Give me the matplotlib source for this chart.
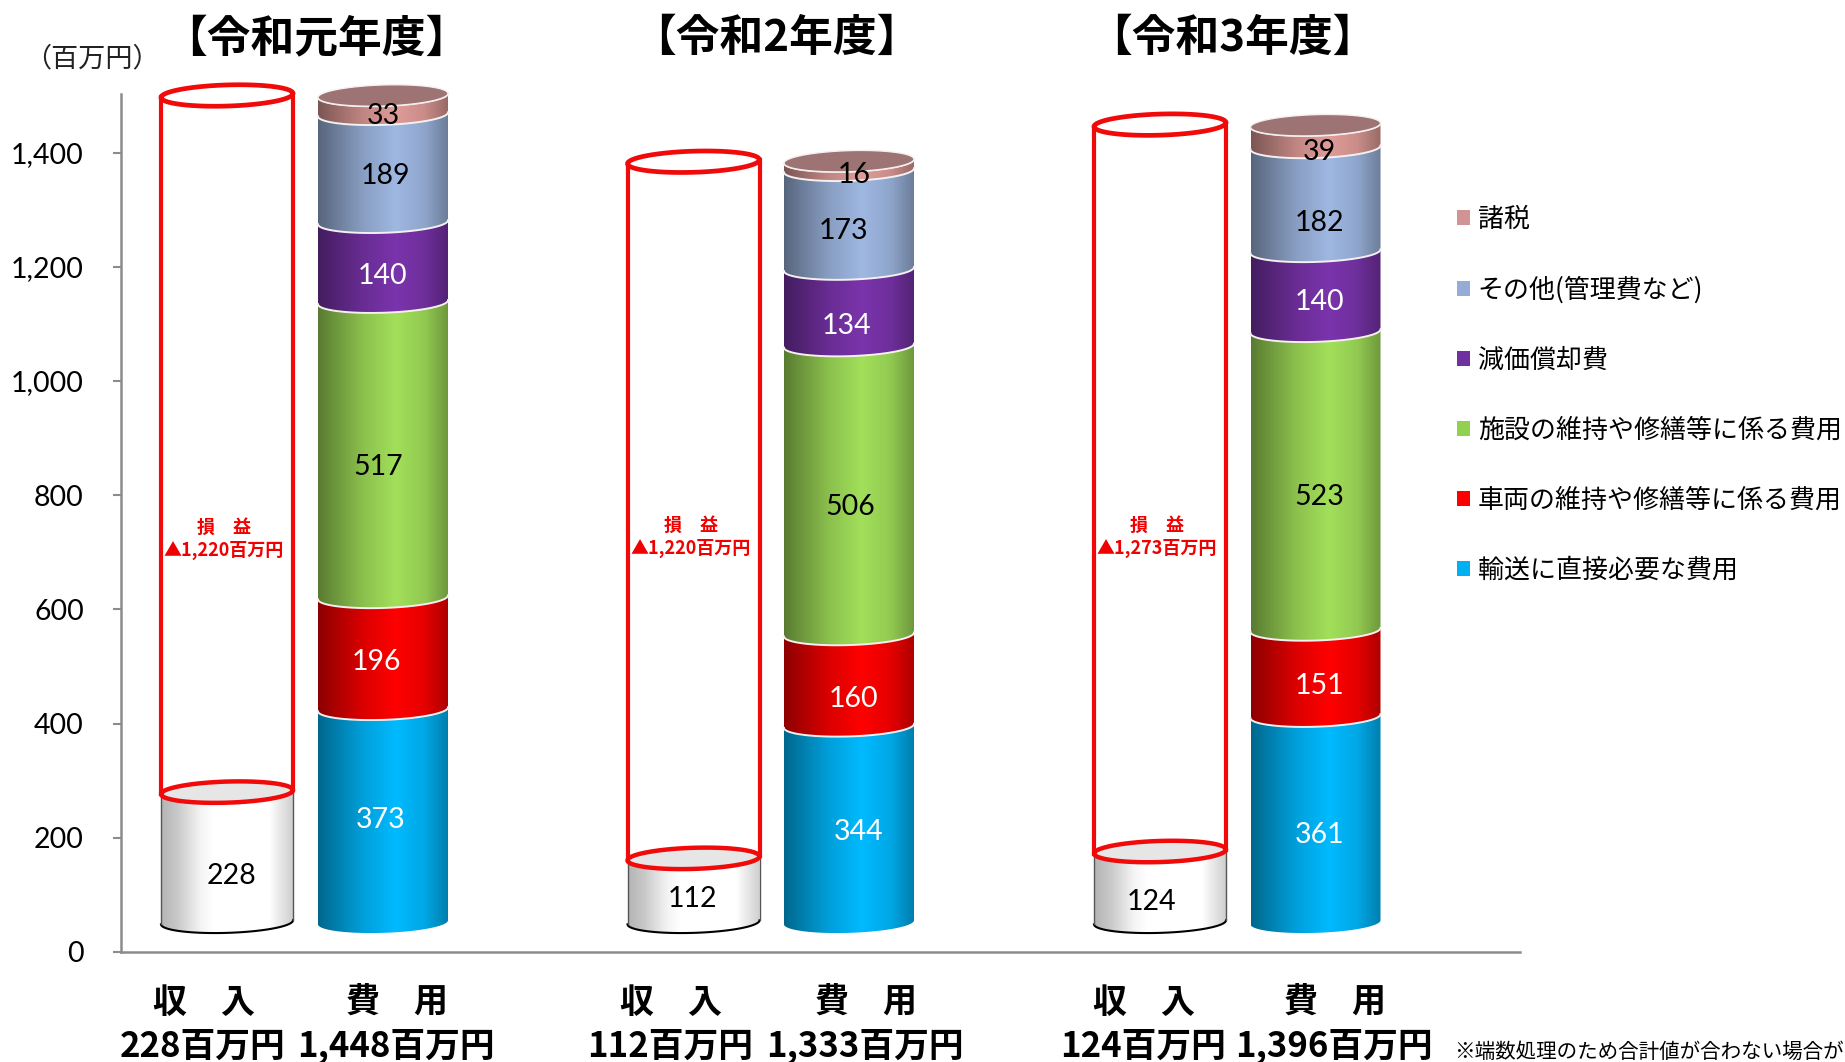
"""Income and cost cylinders for three fiscal years."""

import matplotlib
matplotlib.use("Agg")
import matplotlib.pyplot as plt
import numpy as np
from matplotlib.colors import LinearSegmentedColormap, to_rgb
from matplotlib.patches import Patch, PathPatch
from matplotlib.path import Path

plt.rcParams["font.family"] = ["Noto Sans CJK JP", "DejaVu Sans"]

W, H = 1845, 1062
Y_PX = 0.571  # pixels per million yen

YEARS = ["【令和元年度】", "【令和2年度】", "【令和3年度】"]
REVENUE = [228, 112, 124]
LOSS = [1220, 1220, 1273]
REVENUE_LABELS = ["228百万円", "112百万円", "124百万円"]
COST_LABELS = ["1,448百万円", "1,333百万円", "1,396百万円"]
LOSS_LABELS = ["▲1,220百万円", "▲1,220百万円", "▲1,273百万円"]

TRANSPORT = [373, 344, 361]
VEHICLE = [196, 160, 151]
FACILITY = [517, 506, 523]
DEPRECIATION = [140, 134, 140]
OTHER = [189, 173, 182]
TAX = [33, 16, 39]

CATEGORIES = [
    "輸送に直接必要な費用",
    "車両の維持や修繕等に係る費用",
    "施設の維持や修繕等に係る費用",
    "減価償却費",
    "その他(管理費など)",
    "諸税",
]
TICKS = [0, 200, 400, 600, 800, 1000, 1200, 1400]

SERIES = [TRANSPORT, VEHICLE, FACILITY, DEPRECIATION, OTHER, TAX]
BODY_COLORS = ["#00BAFF", "#FF0000", "#A2E05A", "#7A34AC", "#9FB8E2", "#E09C98"]
LEGEND_COLORS = ["#00B0F0", "#FF0000", "#92D050", "#7030A0", "#95ADD6", "#D09494"]
LABEL_COLORS = ["white", "white", "black", "white", "black", "black"]
CAP_COLOR = "#9D7373"

# layout, in reference pixels
REV_X = [227, 693.5, 1160]
COST_X = [383, 849, 1315.5]
REV_HALF = 66
COST_HALF = 65
BASE = 52  # the 3-D chart floats its cylinders above the axis
ARC_H = 18.5
TILT = 3.5
REV_TEXT_X = [204, 671, 1144]
COST_TEXT_X = [397, 866, 1335]
LOSS_TEXT_Y = [(527, 550), (525, 548), (525, 548)]
TITLE_X = [316, 776, 1232]
# label nudges per year, bottom segment first
LABEL_DX = [[-2, -7, -5, 0, 2, 0], [10, 5, 1, -2, -5, 5], [4, 4, 4, 4, 4, 4]]
LABEL_DY = [[4, 9, 17, 14, 8, 11], [8, 19, 17, 19, 11, 9], [16, 13, 16, 11, 24, 16]]
REV_LABEL_DX = [5, -1, -8]
REV_LABEL_DY = [19, 9, 15]


def fig_xy(x, y):
    return x / W, 1 - y / H


def arc(xc, half, y, start=np.pi, stop=2 * np.pi):
    t = np.linspace(start, stop, 60)
    return xc + half * np.cos(t), y + ARC_H * np.sin(t) + TILT * np.cos(t)


def shaded_cmap(color):
    rgb = np.array(to_rgb(color))
    stops = [(0.0, 0.55), (0.12, 0.66), (0.35, 0.86), (0.6, 1.0), (0.82, 0.9), (1.0, 0.68)]
    return LinearSegmentedColormap.from_list(
        "shade", [(pos, tuple(rgb * k)) for pos, k in stops]
    )


def band(ax, xc, half, lo, hi, cmap):
    x1, y1 = arc(xc, half, lo)
    x2, y2 = arc(xc, half, hi)
    path = Path(np.column_stack([np.r_[x1, x2[::-1]], np.r_[y1, y2[::-1]]]))
    img = ax.imshow(
        np.linspace(0, 1, 256).reshape(1, -1),
        extent=[xc - half, xc + half, lo - 40, hi + 40],
        aspect="auto",
        cmap=cmap,
        interpolation="bilinear",
        zorder=2,
    )
    img.set_clip_path(PathPatch(path, transform=ax.transData))
    img.set_clip_box(None)


def ellipse(ax, xc, half, y, face, edge, lw, zorder):
    x, ye = arc(xc, half, y, 0, 2 * np.pi)
    ax.fill(x, ye, facecolor=face, edgecolor=edge, linewidth=lw, zorder=zorder, clip_on=False)


def draw_cost(ax, idx):
    xc = COST_X[idx]
    lo = BASE
    for s, values in enumerate(SERIES):
        hi = lo + values[idx]
        band(ax, xc, COST_HALF, lo, hi, shaded_cmap(BODY_COLORS[s]))
        ax.plot(*arc(xc, COST_HALF, hi), color="#F4F0F0", lw=1.4, zorder=3, clip_on=False)
        ax.annotate(
            str(values[idx]),
            (xc, (lo + hi) / 2),
            xytext=(LABEL_DX[idx][s], -LABEL_DY[idx][s]),
            textcoords="offset pixels",
            ha="center",
            va="center",
            color=LABEL_COLORS[s],
            fontsize=20.5,
            family="Lato",
            zorder=6,
        )
        lo = hi
    ellipse(ax, xc, COST_HALF, lo, CAP_COLOR, "#F4F0F0", 1.0, 4)


def draw_revenue(ax, idx):
    xc = REV_X[idx]
    lo, hi = BASE, BASE + REVENUE[idx]
    top = hi + LOSS[idx]
    left, right = xc - REV_HALF, xc + REV_HALF
    white = LinearSegmentedColormap.from_list(
        "white",
        [(0.0, "#B4B4B4"), (0.12, "#C8C8C8"), (0.3, "#F4F4F4"), (0.4, "white"),
         (0.82, "white"), (1.0, "#CFCFCF")],
    )
    band(ax, xc, REV_HALF, lo, hi, white)
    ax.plot(*arc(xc, REV_HALF, lo), color="black", lw=1.5, zorder=3)
    ax.plot([left, left], [lo - TILT, hi - TILT], color="#555555", lw=1.0, zorder=3)
    ax.plot([right, right], [lo + TILT, hi + TILT], color="#555555", lw=1.0, zorder=3)
    ax.plot([left, left], [hi - TILT, top - TILT], color="#F00A0A", lw=3.0, zorder=4, clip_on=False)
    ax.plot([right, right], [hi + TILT, top + TILT], color="#F00A0A", lw=3.0, zorder=4, clip_on=False)
    ellipse(ax, xc, REV_HALF, hi, "#E6E6E6", "#F00A0A", 3.2, 5)
    ellipse(ax, xc, REV_HALF, top, "white", "#F00A0A", 3.4, 5)
    ax.annotate(
        str(REVENUE[idx]),
        (xc, (lo + hi) / 2),
        xytext=(REV_LABEL_DX[idx], -REV_LABEL_DY[idx]),
        textcoords="offset pixels",
        ha="center",
        va="center",
        fontsize=20.5,
        family="Lato",
        zorder=6,
    )


def main():
    fig = plt.figure(figsize=(W / 100, H / 100), dpi=100)
    ax = fig.add_axes([121 / W, (H - 952) / H, (1520 - 121) / W, 858 / H])

    for idx in range(3):
        draw_revenue(ax, idx)
        draw_cost(ax, idx)

    ax.set_xlim(121, 1520)
    ax.set_ylim(0, 858 / Y_PX)
    ax.set_xticks([])
    ax.set_yticks(TICKS)
    ax.set_yticklabels([f"{t:,}" for t in TICKS], family="Lato", fontsize=20.5)
    ax.tick_params(axis="y", length=5.8, width=1.5, color="#8C8C8C", pad=21)
    ax.spines[["top", "right"]].set_visible(False)
    ax.spines[["left", "bottom"]].set_color("#8C8C8C")
    ax.spines[["left", "bottom"]].set_linewidth(1.8)

    fig.text(*fig_xy(92, 59), "（百万円）", fontsize=19.5, ha="center", va="center", color="#222222")

    for idx in range(3):
        fig.text(*fig_xy(TITLE_X[idx], 38), YEARS[idx], fontsize=31.5, fontweight="bold",
                 ha="center", va="center")
        fig.text(*fig_xy(REV_TEXT_X[idx], 1002), "収\u3000入", fontsize=24.5, fontweight="bold",
                 ha="center", va="center")
        fig.text(*fig_xy(COST_TEXT_X[idx], 1002), "費\u3000用", fontsize=24.5, fontweight="bold",
                 ha="center", va="center")
        fig.text(*fig_xy(REV_TEXT_X[idx] - 1, 1046), REVENUE_LABELS[idx], fontsize=25,
                 fontweight="bold", ha="center", va="center")
        fig.text(*fig_xy(COST_TEXT_X[idx] - 1, 1046), COST_LABELS[idx], fontsize=25,
                 fontweight="bold", ha="center", va="center")
        y_head, y_loss = LOSS_TEXT_Y[idx]
        fig.text(*fig_xy(REV_X[idx] - 3, y_head), "損\u3000益", fontsize=13, fontweight="bold",
                 color="#F00000", ha="center", va="center")
        fig.text(*fig_xy(REV_X[idx] - 3, y_loss), LOSS_LABELS[idx], fontsize=13, fontweight="bold",
                 color="#F00000", ha="center", va="center")

    handles = [Patch(facecolor=c, edgecolor="none") for c in LEGEND_COLORS[::-1]]
    fig.legend(
        handles,
        CATEGORIES[::-1],
        loc="upper left",
        bbox_to_anchor=(1457 / W, 1 - 206 / H),
        frameon=False,
        fontsize=18.7,
        handlelength=0.5,
        handleheight=0.5,
        handletextpad=0.3,
        labelspacing=1.66,
        borderpad=0,
        borderaxespad=0,
    )

    fig.text(*fig_xy(1454, 1052), "※端数処理のため合計値が合わない場合があります", fontsize=14.8,
             ha="left", va="center")

    fig.savefig("out.png", dpi=100)


if __name__ == "__main__":
    main()
